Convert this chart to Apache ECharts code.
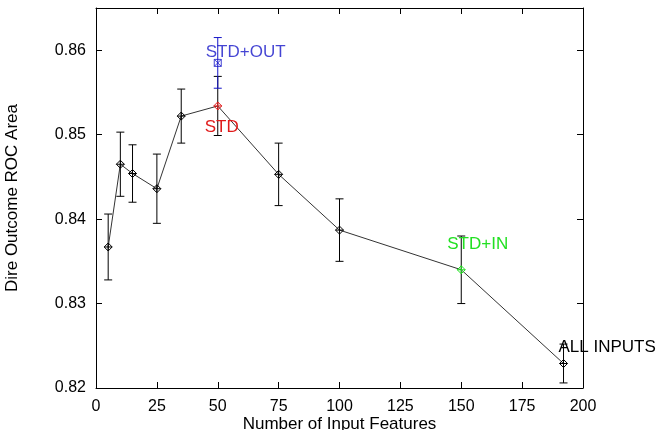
<!DOCTYPE html>
<html>
<head>
<meta charset="utf-8">
<script src="https://cdn.jsdelivr.net/npm/echarts@6.0.0/dist/echarts.min.js"></script>
<style>
  html, body { margin: 0; padding: 0; background: #fff; }
  #chart { width: 656px; height: 430px; }
</style>
</head>
<body>
<div id="chart"></div>
<script>
// number of input features and ROC area with +/- error
const features = [5, 10, 15, 25, 35, 50, 75, 100, 150, 192]
const rocArea = [0.8367, 0.8465, 0.8454, 0.8436, 0.8522, 0.8534, 0.8453, 0.8387, 0.8340, 0.8229]
const rocErr = [0.0039, 0.0038, 0.0034, 0.0041, 0.0032, 0.0035, 0.0037, 0.0037, 0.0040, 0.0023]
const pointNames = ["", "", "", "", "", "STD", "", "", "STD+IN", "ALL INPUTS"]

// the extra STD+OUT run
const outFeatures = [50]
const outArea = [0.8585]
const outErr = [0.0030]

const xTicks = [0, 25, 50, 75, 100, 125, 150, 175, 200]
const yTicks = [0.82, 0.83, 0.84, 0.85, 0.86]

const colors = { STD: "#e01a1a", "STD+IN": "#22e022", "ALL INPUTS": "#000", "STD+OUT": "#1515c8" }
const labelOffsets = { STD: [-13, 21], "STD+IN": [-14, -25], "ALL INPUTS": [-5, -16], "STD+OUT": [-12, -11] }

const diamond = "path://M5,0 L10,5 L5,10 L0,5 Z M5,0 L5,10 M0,5 L10,5"
const boxX = "path://M0,0 L10,0 L10,10 L0,10 Z M0,0 L10,10 M10,0 L0,10"

const chart = echarts.init(document.getElementById("chart"))

const pointLabel = (name) => ({
  show: true,
  formatter: name,
  position: "inside",
  align: "left",
  verticalAlign: "middle",
  offset: labelOffsets[name],
  color: colors[name],
  fontSize: 17,
  fontFamily: "Liberation Sans"
})

const mainData = features.map((x, i) => {
  const name = pointNames[i]
  const item = { value: [x, rocArea[i]] }
  if (name) {
    item.label = pointLabel(name)
    item.itemStyle = { borderColor: colors[name] }
  }
  return item
})

const errData = features.map((x, i) => [x, rocArea[i] - rocErr[i], rocArea[i] + rocErr[i], "#000"])
  .concat(outFeatures.map((x, i) => [x, outArea[i] - outErr[i], outArea[i] + outErr[i], colors["STD+OUT"]]))

const renderErr = (params, api) => {
  const top = api.coord([api.value(0), api.value(2)])
  const bot = api.coord([api.value(0), api.value(1)])
  const color = errData[params.dataIndex][3]
  const w = 4
  const style = { stroke: color, lineWidth: 1 }
  return {
    type: "group",
    children: [
      { type: "line", shape: { x1: top[0], y1: top[1], x2: bot[0], y2: bot[1] }, style },
      { type: "line", shape: { x1: top[0] - w, y1: top[1], x2: top[0] + w, y2: top[1] }, style },
      { type: "line", shape: { x1: bot[0] - w, y1: bot[1], x2: bot[0] + w, y2: bot[1] }, style }
    ]
  }
}

const axisCommon = {
  axisLine: { show: true, onZero: false, lineStyle: { color: "#000", width: 1 } },
  axisTick: { show: true, inside: true, length: 6, lineStyle: { color: "#000" } },
  splitLine: { show: false }
}

const option = {
  animation: false,
  grid: { left: 96, right: 73, top: 8, bottom: 42, containLabel: false, outerBoundsMode: "none" },
  xAxis: [
    {
      type: "value", min: 0, max: 200, interval: 25,
      name: "Number of Input Features", nameLocation: "middle", nameGap: 28, nameMoveOverlap: false,
      nameTextStyle: { color: "#000", fontSize: 17, fontFamily: "Liberation Sans" },
      axisLabel: { color: "#000", fontSize: 16, fontFamily: "Liberation Sans", margin: 11,
        formatter: (v) => xTicks.includes(v) ? String(v) : "" },
      ...axisCommon
    },
    {
      type: "value", min: 0, max: 200, interval: 25, position: "top",
      axisLabel: { show: false },
      ...axisCommon
    }
  ],
  yAxis: [
    {
      type: "value", min: 0.82, max: 0.865, interval: 0.01,
      name: "Dire Outcome ROC Area", nameLocation: "middle", nameGap: 75, nameMoveOverlap: false,
      nameTextStyle: { color: "#000", fontSize: 17, fontFamily: "Liberation Sans" },
      axisLabel: { color: "#000", fontSize: 16, fontFamily: "Liberation Sans", margin: 10,
        showMaxLabel: false,
        formatter: (v) => {
          const t = yTicks.find((y) => Math.abs(y - v) < 1e-6)
          return t === undefined ? "" : t.toFixed(2)
        } },
      ...axisCommon
    },
    {
      type: "value", min: 0.82, max: 0.865, interval: 0.01, position: "right",
      axisLabel: { show: false },
      ...axisCommon
    }
  ],
  series: [
    {
      type: "custom",
      renderItem: renderErr,
      data: errData,
      encode: { x: 0, y: [1, 2] },
      z: 1,
      silent: true
    },
    {
      type: "line",
      data: mainData,
      symbol: diamond,
      symbolSize: 8,
      showAllSymbol: true,
      lineStyle: { color: "#333", width: 1 },
      itemStyle: { color: "rgba(0,0,0,0)", borderColor: "#000", borderWidth: 1 },
      z: 2
    },
    {
      type: "scatter",
      data: outFeatures.map((x, i) => ({ value: [x, outArea[i]], label: pointLabel("STD+OUT") })),
      symbol: boxX,
      symbolSize: 7,
      itemStyle: { color: "rgba(0,0,0,0)", borderColor: colors["STD+OUT"], borderWidth: 1 },
      z: 3
    }
  ]
}

chart.setOption(option)
</script>
</body>
</html>
